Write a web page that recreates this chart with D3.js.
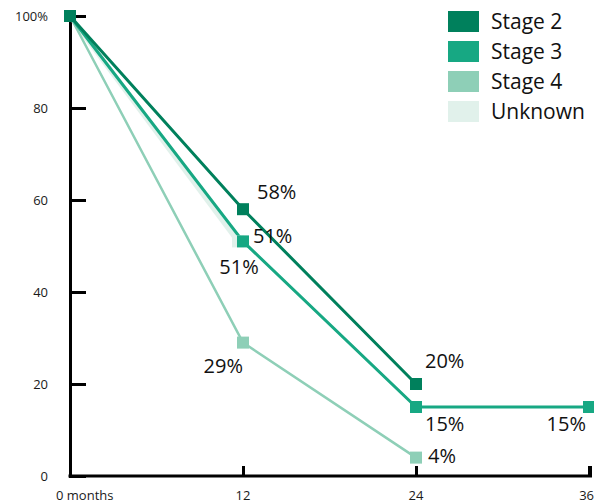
<!DOCTYPE html>
<html>
<head>
<meta charset="utf-8">
<script src="https://cdn.jsdelivr.net/npm/d3@7"></script>
<style>
  html, body { margin: 0; padding: 0; background: #fff; }
  svg { display: block; font-family: "Open Sans", "Noto Sans", sans-serif; }
</style>
</head>
<body>
<svg id="chart" width="594" height="504"></svg>
<script>
// Survival by stage, percent of patients at each follow-up month
const monthTicks = [0, 12, 24, 36];
const monthTickLabels = ["0 months", "12", "24", "36"];
const percentTicks = [0, 20, 40, 60, 80, 100];
const percentTickLabels = ["0", "20", "40", "60", "80", "100%"];

const seriesNames = ["Stage 2", "Stage 3", "Stage 4", "Unknown"];
const stage2Months = [0, 12, 24];
const stage2Values = [100, 58, 20];
const stage3Months = [0, 12, 24, 36];
const stage3Values = [100, 51, 15, 15];
const stage4Months = [0, 12, 24];
const stage4Values = [100, 29, 4];
const unknownMonths = [0, 12];
const unknownValues = [100, 51];

const colors = {
  "Stage 2": "#00805c",
  "Stage 3": "#17a883",
  "Stage 4": "#8ecfb7",
  "Unknown": "#e1f1eb"
};
const lineWidths = { "Stage 2": 3, "Stage 3": 3, "Stage 4": 2.5, "Unknown": 5 };

const series = [
  { name: "Stage 2", months: stage2Months, values: stage2Values },
  { name: "Stage 3", months: stage3Months, values: stage3Values },
  { name: "Stage 4", months: stage4Months, values: stage4Values },
  { name: "Unknown", months: unknownMonths, values: unknownValues }
].map(s => ({ ...s, points: s.months.map((m, i) => ({ month: m, value: s.values[i] })) }));

// Value label placement relative to each marker: [series, month, dx, dy, anchor]
const labelPlacement = [
  ["Stage 2", 12, 14, -10, "start"],
  ["Stage 2", 24, 9, -16, "start"],
  ["Stage 3", 12, 10, 2, "start"],
  ["Stage 3", 24, 9, 24, "start"],
  ["Stage 3", 36, -3, 24, "end"],
  ["Stage 4", 12, 0, 30, "end"],
  ["Stage 4", 24, 12, 5, "start"],
  ["Unknown", 12, -4, 33, "middle"]
];

const svg = d3.select("#chart");
const x = d3.scaleLinear().domain([0, 36]).range([70, 589]);
const y = d3.scaleLinear().domain([0, 100]).range([476, 16]);

// The unknown series sits a few pixels to the left so it shows beside Stage 3
const dodge = s => (p => (s.name === "Unknown" && p.month !== 0 ? -5 : 0));

// Axes
const yAxis = d3.axisRight(y).tickValues(percentTicks).tickSize(16).tickFormat("");
const gy = svg.append("g").attr("transform", `translate(${x(0)},0)`).call(yAxis);
gy.select(".domain").attr("stroke", "#000").attr("stroke-width", 3);
gy.selectAll(".tick line").attr("stroke", "#000").attr("stroke-width", 3);

const xAxis = d3.axisTop(x).tickValues(monthTicks.slice(1)).tickSize(10).tickFormat("");
const gx = svg.append("g").attr("transform", `translate(0,${y(0)})`).call(xAxis);
gx.select(".domain").attr("stroke", "#000").attr("stroke-width", 3)
  .attr("d", `M${x(0) - 1.5},0H${x(36) + 1.5}V-10`);
gx.selectAll(".tick line").attr("stroke", "#000").attr("stroke-width", 3);

// Tick labels
svg.append("g").selectAll("text").data(percentTicks).join("text")
  .attr("x", 48).attr("y", d => y(d)).attr("dy", "0.35em")
  .attr("text-anchor", "end").attr("font-size", 13).attr("fill", "#1a1a1a")
  .text((d, i) => percentTickLabels[i]);

const lastMonth = monthTicks[monthTicks.length - 1];
svg.append("g").selectAll("text").data(monthTicks).join("text")
  .attr("x", d => d === 0 ? 56 : d === lastMonth ? 594 : x(d))
  .attr("y", 500)
  .attr("text-anchor", d => d === 0 ? "start" : d === lastMonth ? "end" : "middle")
  .attr("font-size", 13).attr("fill", "#1a1a1a")
  .text((d, i) => monthTickLabels[i]);

// Lines and markers, drawn from the back series to the front one
const line = s => d3.line().x(p => x(p.month) + dodge(s)(p)).y(p => y(p.value));
const drawOrder = series.slice().reverse();

drawOrder.forEach(s => {
  svg.append("path").datum(s.points)
    .attr("fill", "none").attr("stroke", colors[s.name])
    .attr("stroke-width", lineWidths[s.name])
    .attr("d", line(s));
});

const marker = 12;
drawOrder.forEach(s => {
  svg.append("g").selectAll("rect").data(s.points).join("rect")
    .attr("x", p => x(p.month) + dodge(s)(p) - marker / 2)
    .attr("y", p => y(p.value) - marker / 2)
    .attr("width", marker).attr("height", marker)
    .attr("fill", colors[s.name]);
});

// Value labels
labelPlacement.forEach(([name, month, dx, dy, anchor]) => {
  const s = series.find(d => d.name === name);
  const p = s.points.find(d => d.month === month);
  svg.append("text")
    .attr("x", x(p.month) + dx).attr("y", y(p.value) + dy)
    .attr("text-anchor", anchor).attr("font-size", 20).attr("fill", "#111")
    .text(p.value + "%");
});

// Legend
const legend = svg.append("g").attr("transform", "translate(448,11)");
const items = legend.selectAll("g").data(seriesNames).join("g")
  .attr("transform", (d, i) => `translate(0,${i * 30})`);
items.append("rect").attr("width", 31).attr("height", 21).attr("fill", d => colors[d]);
items.append("text").attr("x", 43).attr("y", 18)
  .attr("font-size", 21).attr("fill", "#111").text(d => d);
</script>
</body>
</html>
